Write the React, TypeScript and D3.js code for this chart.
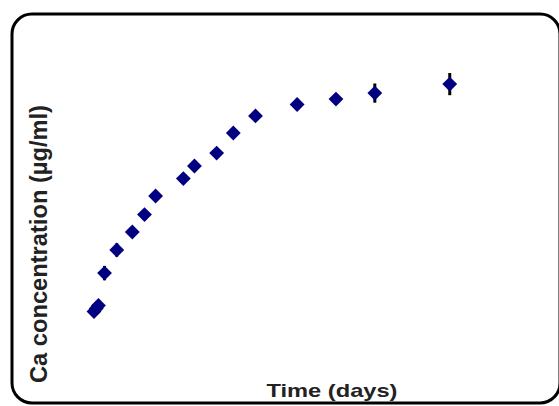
import * as d3 from 'd3';
import React from 'react';

// sampling times (days) and Ca concentration (ug/ml) with error (sd)
const days = [0.9, 1.3, 1.7, 2.8, 5, 7.8, 10, 12, 17, 19, 23, 26, 30, 37.5, 44.5, 51.5, 65];
const concentration = [9.5, 10.5, 11.5, 22.3, 30, 36, 41.8, 48, 53.8, 58, 62.3, 69, 74.7, 78.5, 80.3, 82.3, 85.3];
const errors = [0.5, 0.5, 0.5, 2.4, 2.2, 1.5, 1.5, 1.5, 1.5, 1.5, 1.5, 1.5, 1.5, 1.5, 1.5, 3.2, 3.7];

const xTitle = 'Time (days)';
const yTitle = 'Ca concentration (µg/ml)';

const App = () => {
  const width = 559;
  const height = 406;

  // no visible axes in the original, scales just place the points
  const x = d3.scaleLinear([0, 80], [89, 89 + 5.55 * 80]);
  const y = d3.scaleLinear([0, 100], [340, 40]);

  const diamond = d3.symbol(d3.symbolSquare, 110)();

  return (
    <div style={{ position: 'absolute', left: 0, top: 0 }}>
      <svg width={width} height={height} style={{ display: 'block' }}>
        <rect x={0} y={0} width={width} height={height} fill="white" />
        {/* rounded frame */}
        <rect x={12} y={14} width={548} height={389} rx={20} ry={20} fill="none" stroke="black" strokeWidth={3} />

        {/* error bars */}
        <g stroke="black" strokeWidth={3}>
          {days.map((d, i) => (
            <line key={i} x1={x(d)} x2={x(d)} y1={y(concentration[i] - errors[i])} y2={y(concentration[i] + errors[i])} />
          ))}
        </g>

        {/* markers */}
        <g fill="#000080">
          {days.map((d, i) => (
            <path key={i} d={diamond} transform={`translate(${x(d)},${y(concentration[i])}) rotate(45)`} />
          ))}
        </g>

        <text
          x={332}
          y={397}
          textAnchor="middle"
          fontFamily="'Liberation Sans', Arial, sans-serif"
          fontWeight="bold"
          fontSize={19}
          fill="#222"
          textLength={131}
          lengthAdjust="spacingAndGlyphs"
        >
          {xTitle}
        </text>
        <text
          transform="translate(47,244) rotate(-90)"
          textAnchor="middle"
          fontFamily="'Liberation Sans', Arial, sans-serif"
          fontWeight="bold"
          fontSize={23}
          fill="#222"
          textLength={278}
          lengthAdjust="spacingAndGlyphs"
        >
          {yTitle}
        </text>
      </svg>
    </div>
  );
};

export default App;
